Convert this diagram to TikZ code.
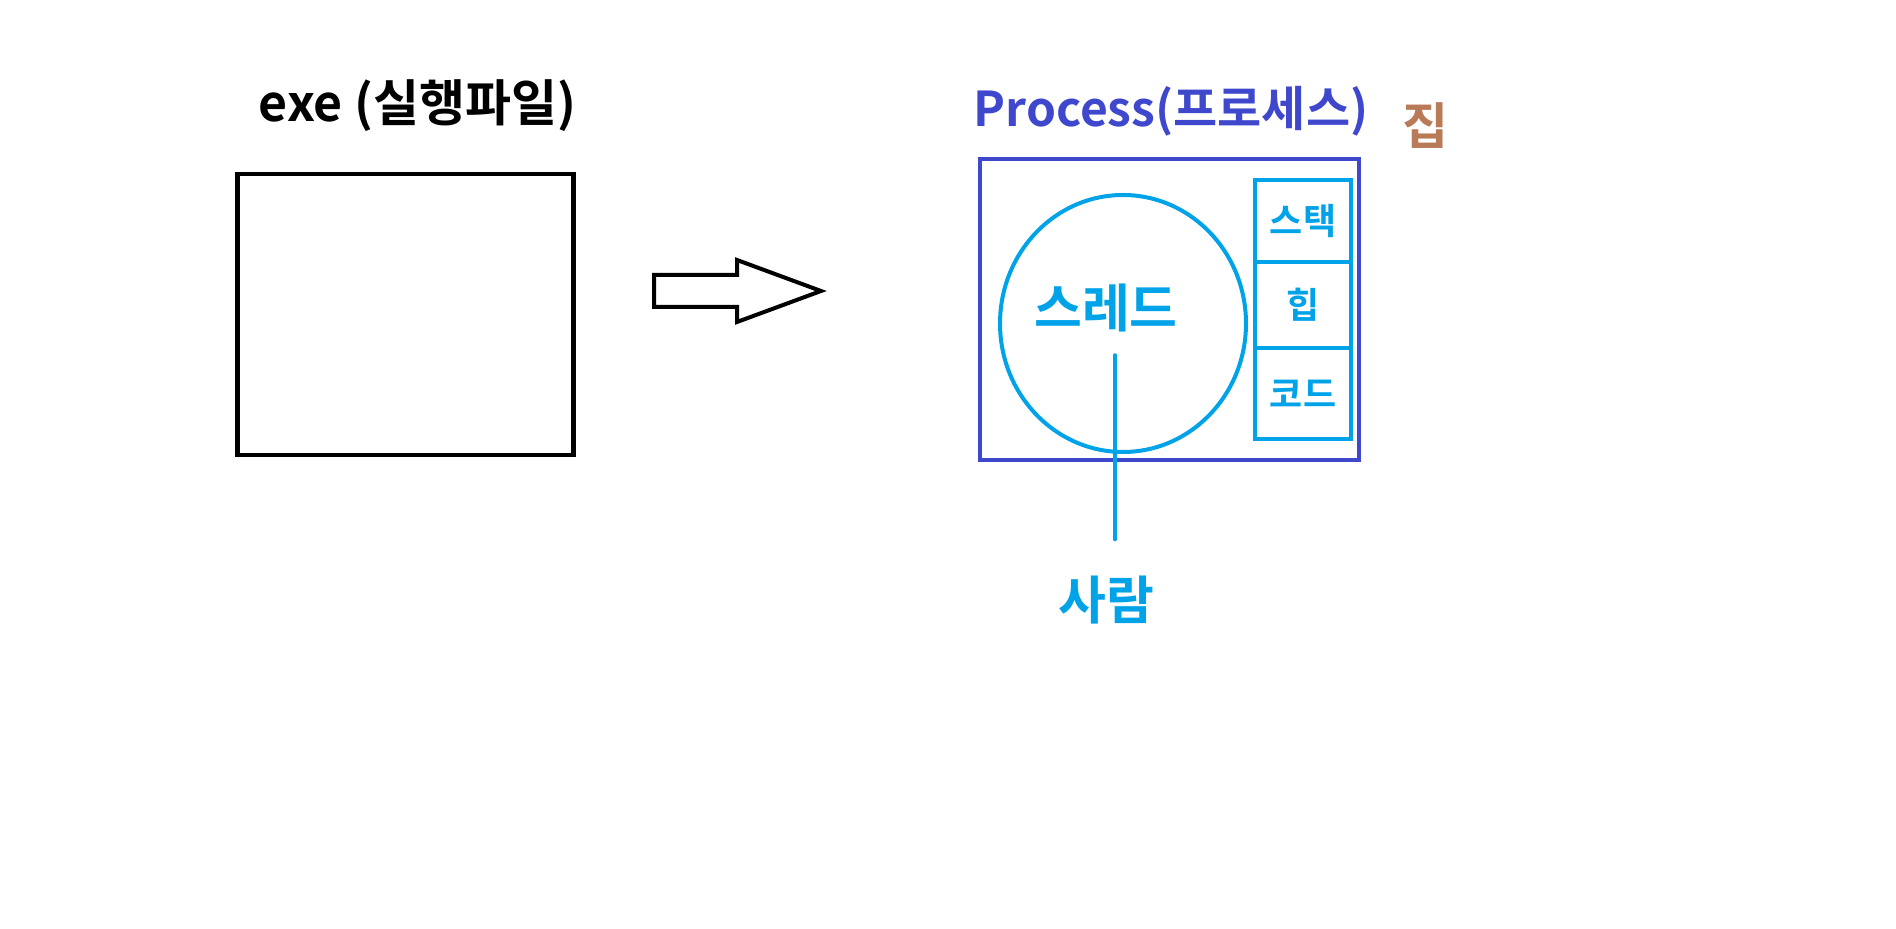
\documentclass[tikz,border=0pt]{standalone}
\usepackage{fontspec}
\newfontfamily\krfont{Noto Sans CJK KR}[BoldFont={* Bold}]
\usepackage{tikz}
\usetikzlibrary{shapes.geometric, positioning}
\definecolor{indigoP}{HTML}{3F48CC}
\definecolor{turq}{HTML}{00A2E8}
\definecolor{brownH}{HTML}{B97A57}
\tikzset{
    exeBox/.style={rectangle, draw=black, line width=2.25pt, inner sep=0pt, minimum width=168pt, minimum height=140.5pt},
    procBox/.style={rectangle, draw=indigoP, line width=2.25pt, inner sep=0pt, minimum width=189.5pt, minimum height=150.5pt},
    threadCirc/.style={ellipse, draw=turq, line width=2pt, inner sep=0pt, minimum width=123pt, minimum height=128.5pt},
    memBox/.style={rectangle, draw=turq, line width=2.25pt, inner sep=0pt, outer sep=0pt, minimum width=48pt, text=turq, font=\krfont\bfseries\fontsize{18}{18}\selectfont},
    bigLabel/.style={inner sep=0pt, font=\krfont\bfseries\fontsize{24}{24}\selectfont},
    turqLabel/.style={inner sep=0pt, text=turq, font=\krfont\bfseries\fontsize{26}{26}\selectfont},
    threadLine/.style={draw=turq, line width=1.75pt, line cap=round},
    bigArrow/.style={draw=black, line width=2pt},
}
\begin{document}
\begin{tikzpicture}[x=0.5pt, y=-0.5pt]
    \useasboundingbox (0,0) rectangle (1896,929);

    % exe
    \node[bigLabel, anchor=base, font=\krfont\bfseries\fontsize{25}{25}\selectfont] (exeT) at (417.5,122) {exe (실행파일)};
    \node[exeBox] (exe) at (405.5,314.5) {};

    \draw[bigArrow] (654,275) -- (737,275) -- (737,260) -- (821,291) -- (737,322) -- (737,307) -- (654,307) -- cycle;

    % process
    \node[bigLabel, anchor=base, text=indigoP] (procT) at (1171,127) {Process(프로세스)};
    \node[bigLabel, text=brownH, font=\krfont\bfseries\fontsize{25}{25}\selectfont] (house) at (1425,126) {집};
    \node[procBox] (proc) at (1169.5,309.5) {};
    \node[threadCirc] (thread) at (1123,323.5) {};
    \node[turqLabel] (threadT) at (1106,308) {스레드};

    \node[memBox, minimum height=41pt] (stack) at (1303,221) {스택};
    \node[memBox, minimum height=43pt, below=0pt of stack] (heap) {힙};
    \node[memBox, minimum height=45.5pt, below=0pt of heap] (code) {코드};

    % person
    \coordinate (lineTop) at (1115,355);
    \node[turqLabel] (person) at (1106,600) {사람};
    \draw[threadLine, shorten >=36*0.5pt] (lineTop) -- (lineTop |- person.north);

\end{tikzpicture}
\end{document}
